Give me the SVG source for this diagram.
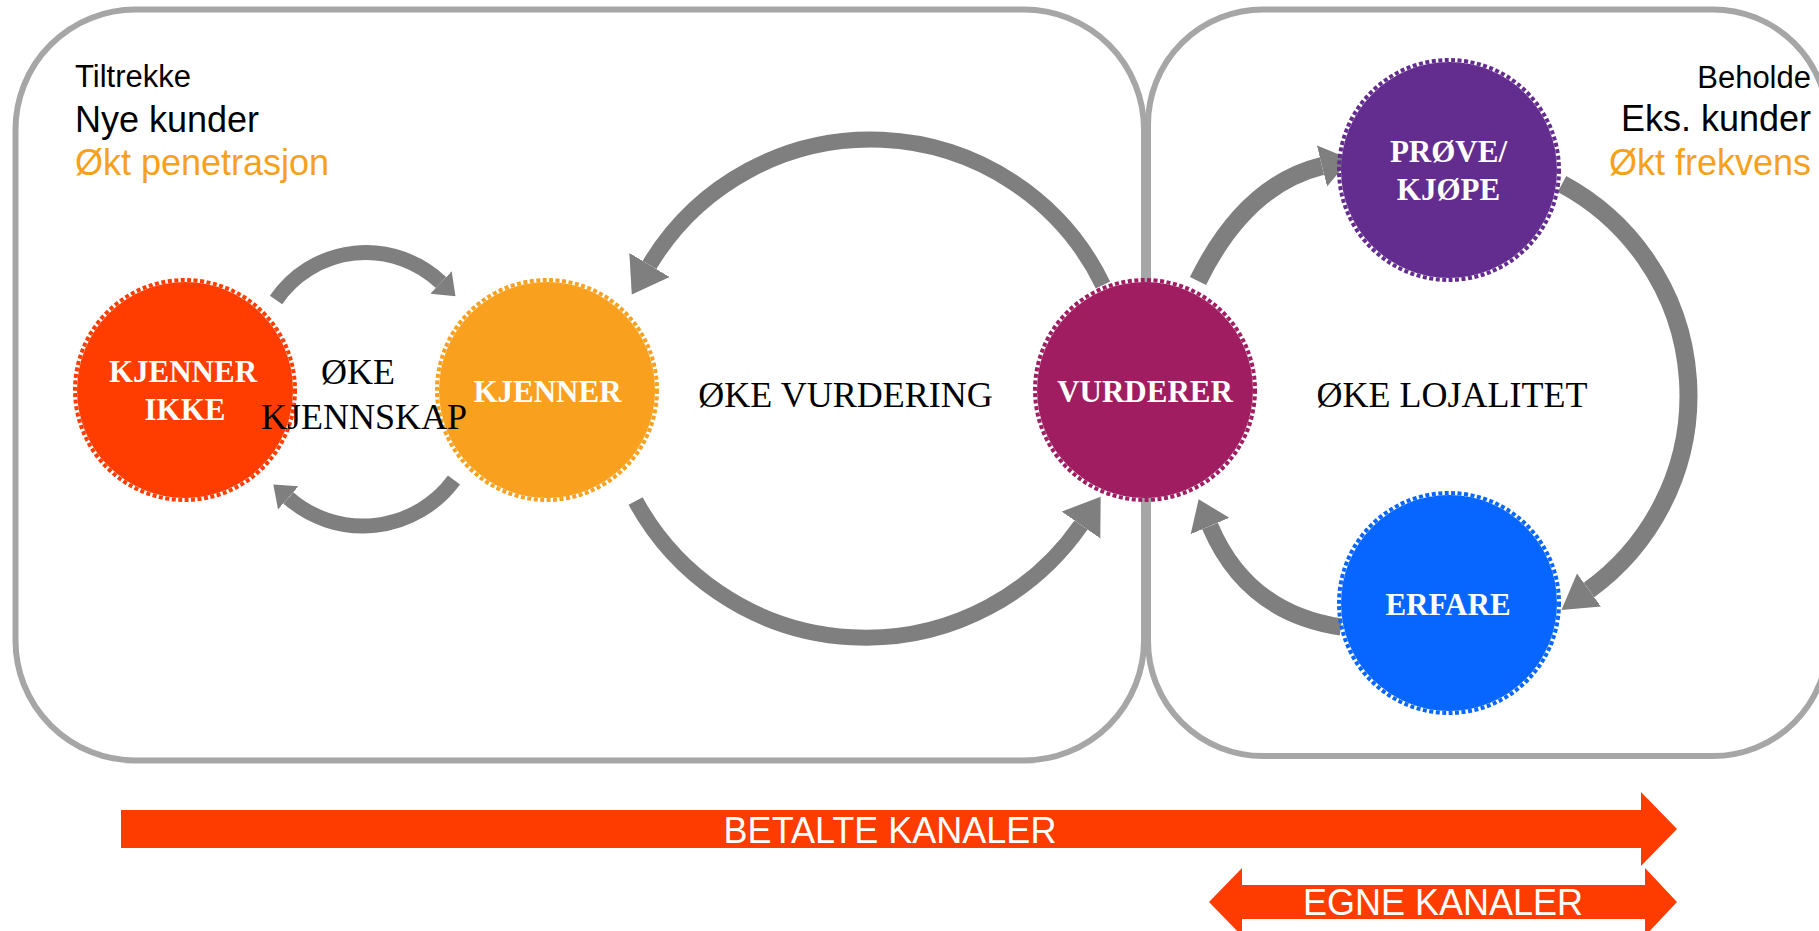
<svg xmlns="http://www.w3.org/2000/svg" width="1819" height="931" viewBox="0 0 1819 931">
<defs>
<style>
.box{fill:none;stroke:#A6A6A6;stroke-width:6}
.sans{font-family:"Liberation Sans",Arial,sans-serif}
.s30{font-size:31px;fill:#000}
.s36{font-size:36px;fill:#000}
.acc{font-size:36px;fill:#F7A11A}
.node text{font-family:"Liberation Serif","Times New Roman",serif;font-weight:bold;font-size:31px;fill:#fff;text-anchor:middle}
.ring{fill:none;stroke-width:4;stroke-dasharray:4 2.5}
#connectors path{fill:none;stroke:#7F7F7F;stroke-linecap:butt}
.mid{font-family:"Liberation Serif","Times New Roman",serif;font-size:36px;fill:#000;text-anchor:middle}
.bar{fill:#FF3C00}
.bartxt{font-family:"Liberation Sans",Arial,sans-serif;font-size:36px;fill:#fff;text-anchor:middle}
.head{fill:#7F7F7F}
</style>
<marker id="hS" markerUnits="userSpaceOnUse" viewBox="0 -16 20 32" markerWidth="20" markerHeight="32" refX="0" refY="0" orient="auto"><path class="head" d="M0,-15.5 L20,0 L0,15.5 z"/></marker>
<marker id="hL" markerUnits="userSpaceOnUse" viewBox="0 -24 35 48" markerWidth="35" markerHeight="48" refX="0" refY="0" orient="auto"><path class="head" d="M0,-23.5 L34.5,0 L0,23.5 z"/></marker>
<marker id="hR" markerUnits="userSpaceOnUse" viewBox="0 -22 30 44" markerWidth="30" markerHeight="44" refX="0" refY="0" orient="auto"><path class="head" d="M0,-21 L29,0 L0,21 z"/></marker>
<marker id="hR2" markerUnits="userSpaceOnUse" viewBox="0 -22 35 44" markerWidth="35" markerHeight="44" refX="0" refY="0" orient="auto"><path class="head" d="M0,-20.5 L34,0 L0,20.5 z"/></marker>
</defs>
<rect width="1819" height="931" fill="#fff"/>

<g id="boxes">
<rect id="box-tiltrekke" class="box" x="15.5" y="9.5" width="1128.5" height="751" rx="120" ry="120"/>
<rect id="box-beholde" class="box" x="1148" y="9.5" width="680" height="746.5" rx="115" ry="115"/>
</g>

<g id="labels" class="sans">
<text class="s30" x="75" y="87">Tiltrekke</text>
<text class="s36" x="75" y="132">Nye kunder</text>
<text class="acc" x="75" y="175">Økt penetrasjon</text>
<text class="s30" x="1811" y="88" text-anchor="end">Beholde</text>
<text class="s36" x="1811" y="131" text-anchor="end">Eks. kunder</text>
<text class="acc" x="1811" y="175" text-anchor="end">Økt frekvens</text>
</g>

<g id="connectors">
<path stroke-width="15" d="M276,300 A109,109 0 0 1 441,282.5" marker-end="url(#hS)"/>
<path stroke-width="15" d="M454,480 A113,113 0 0 1 288.3,497.8" marker-end="url(#hS)"/>
<path stroke-width="16" d="M1103,285 A258,258 0 0 0 649.5,265" marker-end="url(#hL)"/>
<path stroke-width="16" d="M635.6,501 A262,262 0 0 0 1081,525" marker-end="url(#hL)"/>
<path stroke-width="18" d="M1198,281 Q1245,185 1322,166" marker-end="url(#hR)"/>
<path stroke-width="18" d="M1562,184 A240,240 0 0 1 1589,590" marker-end="url(#hR2)"/>
<path stroke-width="17" d="M1341,627 Q1247,613 1210,526" marker-end="url(#hR)"/>
</g>

<g id="node-kjenner-ikke" class="node">
<circle cx="185" cy="390" r="108" fill="#FF3D00"/>
<circle class="ring" cx="185" cy="390" r="110" stroke="#FF3D00"/>
<text x="183" y="382">KJENNER</text>
<text x="185" y="420">IKKE</text>
</g>
<g id="node-kjenner" class="node">
<circle cx="547" cy="390" r="108" fill="#F9A11F"/>
<circle class="ring" cx="547" cy="390" r="110" stroke="#F9A11F"/>
<text x="547.5" y="402">KJENNER</text>
</g>
<g id="node-vurderer" class="node">
<circle cx="1145" cy="390" r="108" fill="#A01D62"/>
<circle class="ring" cx="1145" cy="390" r="110" stroke="#A01D62"/>
<text x="1145" y="402">VURDERER</text>
</g>
<g id="node-prove" class="node">
<circle cx="1449" cy="170" r="108" fill="#632C8F"/>
<circle class="ring" cx="1449" cy="170" r="110" stroke="#632C8F"/>
<text x="1448.5" y="162">PRØVE/</text>
<text x="1448.5" y="200">KJØPE</text>
</g>
<g id="node-erfare" class="node">
<circle cx="1449" cy="603" r="108" fill="#0766FF"/>
<circle class="ring" cx="1449" cy="603" r="110" stroke="#0766FF"/>
<text x="1448" y="615">ERFARE</text>
</g>

<g id="stage-labels">
<text class="mid" x="358" y="384">ØKE</text>
<text class="mid" x="364" y="429">KJENNSKAP</text>
<text class="mid" x="845.5" y="407">ØKE VURDERING</text>
<text class="mid" x="1452" y="407">ØKE LOJALITET</text>
</g>

<g id="channel-betalte">
<polygon class="bar" points="121,810 1641,810 1641,792 1677,829 1641,866 1641,848 121,848"/>
<text class="bartxt" x="890" y="843">BETALTE KANALER</text>
</g>
<g id="channel-egne">
<polygon class="bar" points="1242,885 1645,885 1645,868 1677,902 1645,936 1645,919 1242,919 1242,936 1209,902 1242,868"/>
<text class="bartxt" x="1443" y="915">EGNE KANALER</text>
</g>
</svg>
